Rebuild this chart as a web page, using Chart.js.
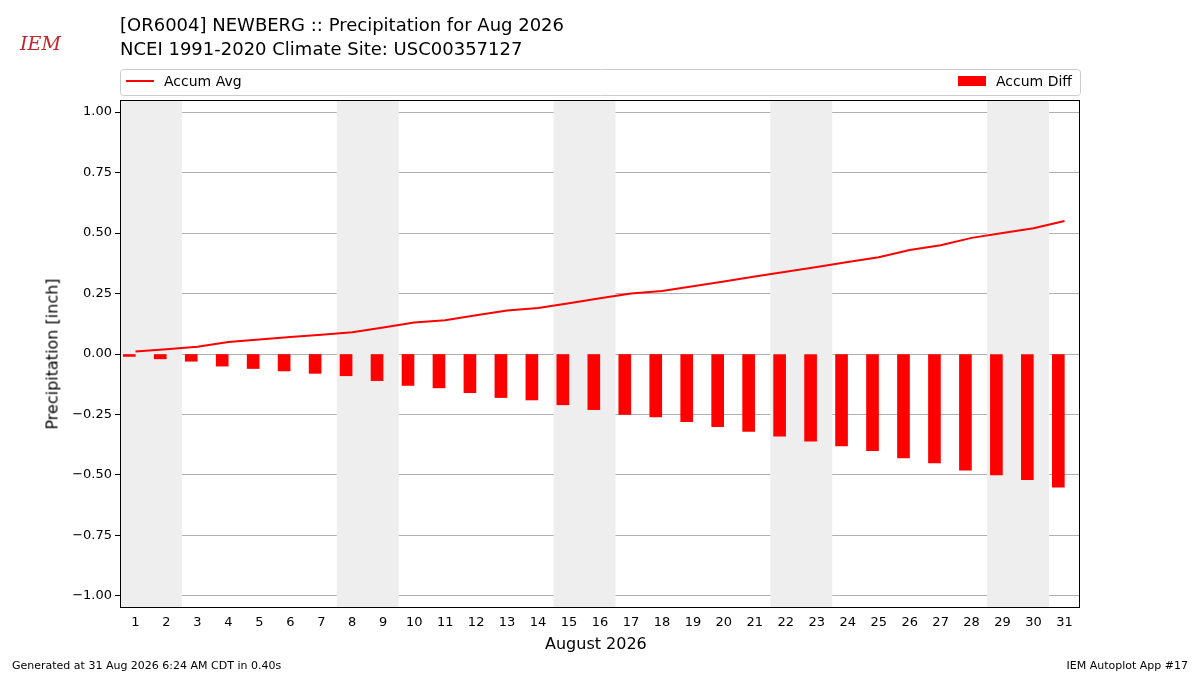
<!DOCTYPE html>
<html><head><meta charset="utf-8">
<script src="https://cdn.jsdelivr.net/npm/chart.js@4"></script>
<style>
body{margin:0;background:#fff;font-family:"DejaVu Sans",sans-serif;}
#wrap{position:relative;width:1200px;height:675px;}
canvas{position:absolute;left:0;top:0;}
.t{position:absolute;color:#000;white-space:nowrap;}
</style></head><body>
<div id="wrap">
<canvas id="c" width="1200" height="675"></canvas>
<div class="t" style="left:120px;top:13px;font-size:18px;line-height:24px">[OR6004] NEWBERG :: Precipitation for Aug 2026<br>NCEI 1991-2020 Climate Site: USC00357127</div>
<div class="t" style="left:20px;top:32px;font-size:19px;font-style:italic;color:#c0282d;font-family:'DejaVu Serif',serif">IEM</div>
<div class="t" style="left:545px;top:634px;font-size:16px">August 2026</div>
<div class="t" style="left:52px;top:354px;font-size:16px;transform:translate(-50%,-50%) rotate(-90deg)">Precipitation [inch]</div>
<div class="t" style="left:12px;top:659px;font-size:11px">Generated at 31 Aug 2026 6:24 AM CDT in 0.40s</div>
<div class="t" style="right:12px;top:659px;font-size:11px">IEM Autoplot App #17</div>
</div>
<script>
const days=[1,2,3,4,5,6,7,8,9,10,11,12,13,14,15,16,17,18,19,20,21,22,23,24,25,26,27,28,29,30,31];
const accumAvg=[0.01,0.02,0.03,0.05,0.06,0.07,0.08,0.09,0.11,0.13,0.14,0.16,0.18,0.19,0.21,0.23,0.25,0.26,0.28,0.30,0.32,0.34,0.36,0.38,0.40,0.43,0.45,0.48,0.50,0.52,0.55];
const accumDiff=[-0.01,-0.02,-0.03,-0.05,-0.06,-0.07,-0.08,-0.09,-0.11,-0.13,-0.14,-0.16,-0.18,-0.19,-0.21,-0.23,-0.25,-0.26,-0.28,-0.30,-0.32,-0.34,-0.36,-0.38,-0.40,-0.43,-0.45,-0.48,-0.50,-0.52,-0.55];
const weekends=[[0.5,2.5],[7.5,9.5],[14.5,16.5],[21.5,23.5],[28.5,30.5]];
const font={family:"DejaVu Sans",size:13};
const deco={id:'deco',
 beforeDatasetsDraw(ch){const {ctx,chartArea:a,scales:{x}}=ch;ctx.save();ctx.fillStyle='#eeeeee';
  weekends.forEach(w=>{const l=x.getPixelForValue(w[0]),r=x.getPixelForValue(w[1]);ctx.fillRect(l,a.top,r-l,a.bottom-a.top);});ctx.restore();},
 afterDraw(ch){const {ctx,chartArea:a}=ch;ctx.save();
  ctx.strokeStyle='#000';ctx.lineWidth=1;ctx.strokeRect(a.left+0.5,a.top+0.5,a.right-a.left-1,a.bottom-a.top-1);
  ctx.strokeStyle='#cccccc';ctx.fillStyle='#fff';ctx.beginPath();ctx.roundRect(120.5,69.5,960,26,3);ctx.fill();ctx.stroke();
  ctx.strokeStyle='red';ctx.lineWidth=2;ctx.beginPath();ctx.moveTo(126,81);ctx.lineTo(154,81);ctx.stroke();
  ctx.fillStyle='#000';ctx.font='14px "DejaVu Sans"';ctx.textBaseline='middle';ctx.fillText('Accum Avg',164,82);
  ctx.fillStyle='red';ctx.fillRect(958,76,28,10);ctx.fillStyle='#000';ctx.fillText('Accum Diff',996,82);
  ctx.restore();}};
new Chart(document.getElementById('c'),{
 data:{datasets:[
  {type:'line',label:'Accum Avg',data:days.map((d,i)=>({x:d,y:accumAvg[i]})),borderColor:'red',borderWidth:2,pointRadius:0,tension:0},
  {type:'bar',label:'Accum Diff',data:days.map((d,i)=>({x:d-0.2,y:accumDiff[i]})),backgroundColor:'red',barThickness:12}
 ]},
 options:{responsive:false,animation:false,layout:{padding:{left:0,right:120,top:100,bottom:0}},
  plugins:{legend:{display:false},tooltip:{enabled:false}},
  scales:{
   x:{type:'linear',offset:false,min:0.5,max:31.5,afterBuildTicks(s){s.ticks=days.map(v=>({value:v}));},
    afterFit(s){s.height=67;},
    grid:{display:false,offset:false,drawTicks:true,tickLength:5,tickColor:'#000'},border:{display:false},
    ticks:{color:'#000',font,autoSkip:false,maxRotation:0,padding:2}},
   y:{min:-1.05,max:1.05,afterBuildTicks(s){s.ticks=[-1,-0.75,-0.5,-0.25,0,0.25,0.5,0.75,1].map(v=>({value:v}));},
    afterFit(s){s.width=120;},
    grid:{color:'#b0b0b0',tickColor:'#000',tickLength:5},border:{display:false},
    ticks:{color:'#000',font,callback:v=>(v<0?'\u2212':'')+Math.abs(v).toFixed(2)}}
  }},
 plugins:[deco]});
</script></body></html>
